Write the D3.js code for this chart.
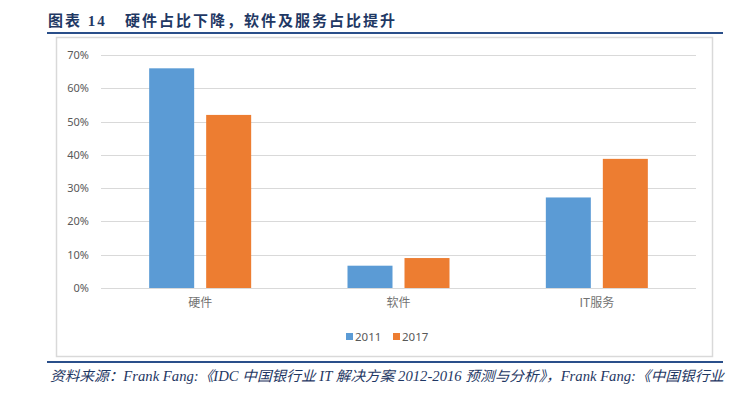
<!DOCTYPE html>
<html lang="en">

<head>
    <meta charset="utf-8">
    <title>硬件占比下降，软件及服务占比提升</title>

    <style type="text/css">
        body {
            margin: 0;
            background-color: white;
        }
        svg {
            display: block;
        }
    </style>

    <script type="text/javascript" src="https://cdn.jsdelivr.net/npm/d3@7/dist/d3.min.js"></script>

</head>


<body>
    <script type="text/javascript">
        // Chart data
        let categories = ["硬件", "软件", "IT服务"];
        let seriesNames = ["2011", "2017"];
        let values2011 = [0.66, 0.067, 0.272];
        let values2017 = [0.52, 0.09, 0.388];
        let yTicks = [0, 0.1, 0.2, 0.3, 0.4, 0.5, 0.6, 0.7];
        let colors = ["#5B9BD5", "#ED7D31"];

        let w = 737;
        let h = 395;

        let svg = d3.select("body").append("svg")
                .attr("width", w)
                .attr("height", h)
                .style("background-color", "white");

        // Title + rule
        svg.append("text")
            .attr("x", 48)
            .attr("y", 26)
            .attr("fill", "#1F3864")
            .style("font-family", "'Liberation Serif', 'Noto Sans CJK SC', serif")
            .style("font-weight", "bold")
            .style("font-size", "15px")
            .style("letter-spacing", "2px")
            .text("图表 14");

        svg.append("text")
            .attr("x", 125)
            .attr("y", 26)
            .attr("fill", "#1F3864")
            .style("font-family", "'Noto Sans CJK SC', sans-serif")
            .style("font-weight", "bold")
            .style("font-size", "15px")
            .style("letter-spacing", "2px")
            .text("硬件占比下降，软件及服务占比提升");

        svg.append("line")
            .attr("x1", 47).attr("x2", 723)
            .attr("y1", 33).attr("y2", 33)
            .attr("stroke", "#2A4F8A")
            .attr("stroke-width", 2);

        // Chart frame
        svg.append("rect")
            .attr("x", 56.5)
            .attr("y", 37.5)
            .attr("width", 656)
            .attr("height", 319)
            .attr("fill", "white")
            .attr("stroke", "#D9D9D9")
            .attr("stroke-width", 1.5);

        // Scales
        let x0 = d3.scaleBand()
            .domain(categories)
            .range([101, 696])
            .padding(0);

        let x1 = d3.scaleBand()
            .domain(seriesNames)
            .range([0, x0.bandwidth()])
            .paddingInner(12 / 57)
            .paddingOuter(0.845);

        let y = d3.scaleLinear()
            .domain([0, 0.7])
            .range([288, 55]);

        // Gridlines
        svg.append("g")
            .selectAll("line")
            .data(yTicks)
            .enter()
            .append("line")
                .attr("x1", 101)
                .attr("x2", 696)
                .attr("y1", function (d) { return Math.round(y(d)) + 0.5; })
                .attr("y2", function (d) { return Math.round(y(d)) + 0.5; })
                .attr("stroke", "#D9D9D9")
                .attr("stroke-width", 1.2);

        // Y axis labels
        let yAxis = d3.axisLeft(y)
            .tickValues(yTicks)
            .tickFormat(d3.format(".0%"))
            .tickSize(0)
            .tickPadding(0);

        let yg = svg.append("g")
            .attr("transform", "translate(89,0)")
            .call(yAxis);
        yg.select(".domain").remove();
        yg.selectAll("text")
            .attr("fill", "#595959")
            .style("font-family", "'Noto Sans', sans-serif")
            .style("font-size", "11px");

        // Bars
        let rows = categories.map(function (c, i) {
            return { cat: c, vals: [values2011[i], values2017[i]] };
        });

        let groups = svg.selectAll("g.cat")
            .data(rows)
            .enter()
            .append("g")
                .attr("class", "cat")
                .attr("transform", function (d) { return "translate(" + x0(d.cat) + ",0)"; });

        groups.selectAll("rect")
            .data(function (d) {
                return d.vals.map(function (v, j) { return { s: seriesNames[j], v: v, j: j }; });
            })
            .enter()
            .append("rect")
                .attr("x", function (d) { return x1(d.s); })
                .attr("y", function (d) { return y(d.v); })
                .attr("width", x1.bandwidth())
                .attr("height", function (d) { return y(0) - y(d.v); })
                .attr("fill", function (d) { return colors[d.j]; });

        // Category labels
        let xAxis = d3.axisBottom(x0).tickSize(0).tickPadding(0);
        let xg = svg.append("g")
            .attr("transform", "translate(0,298)")
            .call(xAxis);
        xg.select(".domain").remove();
        xg.selectAll("text")
            .attr("fill", "#737373")
            .style("font-family", "'Noto Sans CJK SC', sans-serif")
            .style("font-size", "12px");

        // Legend
        let legendX = [346, 393];
        let legend = svg.selectAll("g.legend")
            .data(seriesNames)
            .enter()
            .append("g")
                .attr("class", "legend")
                .attr("transform", function (d, i) { return "translate(" + legendX[i] + ",333)"; });

        legend.append("rect")
            .attr("width", 7)
            .attr("height", 7)
            .attr("fill", function (d, i) { return colors[i]; });

        legend.append("text")
            .attr("x", 9)
            .attr("y", 8)
            .attr("fill", "#595959")
            .style("font-family", "'Noto Sans', sans-serif")
            .style("font-size", "11.5px")
            .text(function (d) { return d; });

        // Source line
        svg.append("line")
            .attr("x1", 47).attr("x2", 723)
            .attr("y1", 362).attr("y2", 362)
            .attr("stroke", "#2A4F8A")
            .attr("stroke-width", 2);

        svg.append("text")
            .attr("x", 50)
            .attr("y", 381)
            .attr("fill", "#1F3864")
            .attr("textLength", 674)
            .attr("lengthAdjust", "spacingAndGlyphs")
            .style("font-family", "'Liberation Serif', 'Noto Sans CJK SC', serif")
            .style("font-style", "italic")
            .style("font-size", "14px")
            .text("资料来源：Frank Fang:《IDC 中国银行业 IT 解决方案 2012-2016 预测与分析》，Frank Fang:《中国银行业");
    </script>
</body>

</html>
